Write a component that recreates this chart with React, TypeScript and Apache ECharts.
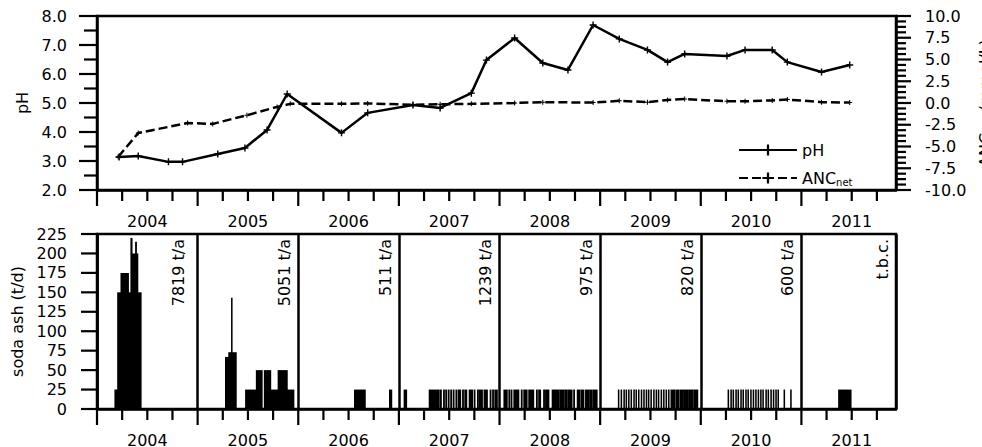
import React, { useEffect, useRef } from 'react';
import * as echarts from 'echarts';

// ---------- data ----------
const X_MIN = 2004;
const X_MAX = 2011.94;

const yearTicks = [2004, 2005, 2006, 2007, 2008, 2009, 2010, 2011];
const phTicks = [2, 3, 4, 5, 6, 7, 8];
const ancTicks = [-10, -7.5, -5, -2.5, 0, 2.5, 5, 7.5, 10];
const sodaTicks = [0, 25, 50, 75, 100, 125, 150, 175, 200, 225];

const phDates = [2004.22, 2004.41, 2004.71, 2004.85, 2005.2, 2005.47, 2005.69, 2005.89, 2006.43, 2006.69, 2007.14, 2007.41, 2007.72, 2007.87, 2008.15, 2008.43, 2008.68, 2008.93, 2009.19, 2009.47, 2009.67, 2009.84, 2010.26, 2010.44, 2010.71, 2010.86, 2011.2, 2011.48];
const phValues = [3.14, 3.17, 2.97, 2.97, 3.24, 3.45, 4.07, 5.31, 3.97, 4.66, 4.93, 4.83, 5.34, 6.48, 7.24, 6.38, 6.14, 7.69, 7.21, 6.83, 6.41, 6.69, 6.62, 6.83, 6.83, 6.41, 6.07, 6.31];

const ancDates = [2004.21, 2004.41, 2004.9, 2005.15, 2005.49, 2005.79, 2005.92, 2006.43, 2006.69, 2007.14, 2007.41, 2007.72, 2008.15, 2008.43, 2008.93, 2009.19, 2009.47, 2009.67, 2009.84, 2010.26, 2010.44, 2010.71, 2010.86, 2011.2, 2011.48];
const ancValues = [-6.2, -3.45, -2.3, -2.4, -1.4, -0.45, -0.1, -0.1, -0.05, -0.2, -0.15, -0.1, 0.0, 0.1, 0.05, 0.25, 0.1, 0.35, 0.45, 0.2, 0.2, 0.3, 0.4, 0.1, 0.05];

// soda ash dosing periods per year: [start day of year, length in days, t/d]
const soda2004 = [[65, 10, 25], [75, 12, 150], [87, 27, 175], [114, 9, 150], [123, 4, 220], [127, 13, 200], [140, 3, 215], [143, 5, 200], [148, 12, 150]];
const soda2005 = [[101, 12, 67], [113, 10, 73], [123, 2, 143], [125, 15, 73], [174, 39, 25], [213, 21, 50], [242, 23, 50], [265, 27, 25], [292, 33, 50], [325, 24, 25]];
const soda2006 = [[204, 39, 25], [331, 8, 25]];
const soda2007 = [[19, 9, 25], [110, 36, 25], [150, 4, 25], [162, 3, 25], [170, 3, 25], [179, 3, 25], [188, 3, 25], [197, 3, 25], [207, 3, 25], [215, 9, 25], [231, 3, 25], [239, 7, 25], [255, 12, 25], [273, 3, 25], [285, 3, 25], [291, 12, 25], [309, 12, 25], [331, 3, 25], [340, 3, 25], [348, 9, 25]];
const soda2008 = [[16, 12, 25], [34, 3, 25], [42, 3, 25], [52, 3, 25], [58, 12, 25], [79, 3, 25], [88, 3, 25], [94, 6, 25], [106, 3, 25], [112, 12, 25], [134, 3, 25], [142, 7, 25], [160, 3, 25], [167, 12, 25], [191, 12, 25], [206, 10, 25], [219, 15, 25], [237, 8, 25], [248, 15, 25], [269, 3, 25], [282, 10, 25], [296, 10, 25], [312, 14, 25], [330, 4, 25], [338, 16, 25]];
const soda2009 = [[66, 2, 25], [76, 2, 25], [86, 2, 25], [94, 2, 25], [103, 2, 25], [112, 2, 25], [122, 2, 25], [130, 2, 25], [139, 2, 25], [149, 2, 25], [158, 2, 25], [167, 2, 25], [175, 2, 25], [184, 2, 25], [194, 2, 25], [203, 2, 25], [211, 2, 25], [221, 2, 25], [230, 2, 25], [239, 2, 25], [248, 2, 25], [257, 6, 25], [266, 6, 25], [276, 10, 25], [290, 12, 25], [305, 15, 25], [323, 14, 25], [340, 14, 25]];
const soda2010 = [[99, 2, 25], [109, 2, 25], [117, 2, 25], [127, 2, 25], [135, 2, 25], [145, 2, 25], [153, 2, 25], [163, 2, 25], [171, 2, 25], [181, 2, 25], [190, 2, 25], [199, 2, 25], [208, 2, 25], [217, 2, 25], [225, 2, 25], [236, 2, 25], [244, 2, 25], [254, 2, 25], [263, 2, 25], [272, 2, 25], [280, 2, 25], [302, 2, 25], [326, 2, 25]];
const soda2011 = [[135, 45, 25]];

const sodaByYear = [soda2004, soda2005, soda2006, soda2007, soda2008, soda2009, soda2010, soda2011];
const annualTotals = ['7819 t/a', '5051 t/a', '511 t/a', '1239 t/a', '975 t/a', '820 t/a', '600 t/a', 't.b.c.'];

// ---------- chart ----------
const FONT = 'DejaVu Sans';
const BLACK = '#000';

const yearFormatter = (v: number) => {
  const f = v - Math.floor(v);
  return Math.abs(f - 0.5) < 0.01 ? String(Math.floor(v)) : '';
};

// subdivide a list of major ticks into minor ticks
const subdivide = (majors: number[], parts: number) => {
  const out: number[] = [];
  for (let i = 0; i < majors.length - 1; i++) {
    const step = (majors[i + 1] - majors[i]) / parts;
    for (let k = 1; k < parts; k++) out.push(majors[i] + k * step);
  }
  return out;
};

const tickRender = (params: any, api: any) => {
  const p = api.coord([api.value(0), api.value(1)]);
  return {
    type: 'line',
    shape: { x1: p[0], y1: p[1], x2: p[0] + api.value(2), y2: p[1] + api.value(3) },
    style: { stroke: BLACK, lineWidth: 2.2 },
  };
};

export default function App() {
  const ref = useRef<HTMLDivElement>(null);
  useEffect(() => {
    document.body.style.margin = '0';
    if (!ref.current) return;
    const chart = echarts.init(ref.current, undefined, { renderer: 'svg' });

    const sodaData: number[][] = [];
    sodaByYear.forEach((segs, i) => {
      const y = yearTicks[i];
      segs.forEach(([d, len, v]) => sodaData.push([y + d / 365, y + (d + len) / 365, v]));
    });
    const annData = yearTicks.map((y) => [Math.min(y + 1, X_MAX) - (y === 2004 ? 0.19 : 0.135), 225]);

    // tick marks: [x, y, dx(px), dy(px)]
    const quarterTicks = subdivide([...yearTicks, 2012], 4).filter((q) => q < X_MAX);
    const topTicks: number[][] = [
      ...phTicks.map((v) => [X_MIN, v, -18, 0]),
      ...subdivide(phTicks, 2).map((v) => [X_MIN, v, -13, 0]),
      ...yearTicks.map((v) => [v, 2, 0, 16]),
      ...quarterTicks.map((v) => [v, 2, 0, 11]),
    ];
    const rightTicks: number[][] = [
      ...ancTicks.map((v) => [X_MAX, v, 15, 0]),
      ...subdivide(ancTicks, 4).map((v) => [X_MAX, v, 10, 0]),
    ];
    const bottomTicks: number[][] = [
      ...sodaTicks.map((v) => [X_MIN, v, -16, 0]),
      ...yearTicks.map((v) => [v, 0, 0, 16]),
      ...quarterTicks.map((v) => [v, 0, 0, 11]),
    ];

    const labelBase = { color: BLACK, fontFamily: FONT, fontSize: 16 };
    const mkLine = () => ({ show: true, onZero: false, lineStyle: { color: BLACK, width: 2.5 } });
    const noTick = { show: false };

    const mkX = (gridIndex: number) => ({
      type: 'value', gridIndex, min: X_MIN, max: X_MAX, interval: 0.25, position: 'bottom',
      axisLine: mkLine(),
      axisTick: noTick,
      axisLabel: { ...labelBase, margin: 23, formatter: yearFormatter },
      splitLine: { show: false },
    });
    const mkXSplit = (gridIndex: number) => ({
      type: 'value', gridIndex, min: X_MIN, max: X_MAX, interval: 1, position: 'bottom',
      axisLine: { show: false, onZero: false },
      axisTick: noTick,
      axisLabel: { show: false },
      splitLine: { show: true, lineStyle: { color: BLACK, width: 2.5 } },
    });

    const subRich = { sub: { fontFamily: FONT, fontSize: 10, color: BLACK, padding: [9, 0, 0, 0] } };

    const option: any = {
      animation: false,
      backgroundColor: '#fff',
      grid: [
        { left: 97, top: 16, width: 799, height: 174, show: true, borderColor: BLACK, borderWidth: 2.5, outerBoundsMode: 'none', containLabel: false },
        { left: 97, top: 234, width: 799, height: 175, show: true, borderColor: BLACK, borderWidth: 2.5, outerBoundsMode: 'none', containLabel: false },
      ],
      legend: {
        orient: 'vertical', left: 733, top: 137, itemWidth: 58, itemHeight: 14, itemGap: 12,
        data: ['pH', 'ANC'],
        formatter: (n: string) => (n === 'ANC' ? 'ANC{sub|net}' : n),
        textStyle: { ...labelBase, rich: subRich },
      },
      xAxis: [mkX(0), mkX(1), mkXSplit(1)],
      yAxis: [
        {
          type: 'value', gridIndex: 0, min: 2, max: 8, interval: 1, position: 'left',
          name: 'pH', nameLocation: 'middle', nameGap: 66, nameRotate: 90,
          nameTextStyle: { ...labelBase },
          axisLine: mkLine(), axisTick: noTick,
          axisLabel: { ...labelBase, margin: 30, formatter: (v: number) => v.toFixed(1) },
          splitLine: { show: false },
        },
        {
          type: 'value', gridIndex: 0, min: -10, max: 10, interval: 2.5, position: 'right',
          name: 'ANC{sub|net} (mmol/L)', nameLocation: 'middle', nameGap: 3, nameRotate: 90,
          nameTextStyle: { ...labelBase, rich: subRich },
          axisLine: mkLine(), axisTick: noTick,
          axisLabel: { ...labelBase, margin: 29, formatter: (v: number) => v.toFixed(1) },
          splitLine: { show: false },
        },
        {
          type: 'value', gridIndex: 1, min: 0, max: 225, interval: 25, position: 'left',
          name: 'soda ash (t/d)', nameLocation: 'middle', nameGap: 71, nameRotate: 90,
          nameTextStyle: { ...labelBase },
          axisLine: mkLine(), axisTick: noTick,
          axisLabel: { ...labelBase, margin: 30 },
          splitLine: { show: false },
        },
      ],
      series: [
        {
          name: 'pH', type: 'line', xAxisIndex: 0, yAxisIndex: 0,
          data: phDates.map((d, i) => [d, phValues[i]]),
          symbol: 'path://M4,0 L6,0 L6,4 L10,4 L10,6 L6,6 L6,10 L4,10 L4,6 L0,6 L0,4 L4,4 Z',
          symbolSize: 7, itemStyle: { color: BLACK }, lineStyle: { color: BLACK, width: 2.5 }, z: 3,
        },
        {
          name: 'ANC', type: 'line', xAxisIndex: 0, yAxisIndex: 1,
          data: ancDates.map((d, i) => [d, ancValues[i]]),
          symbol: 'path://M4,0 L6,0 L6,4 L10,4 L10,6 L6,6 L6,10 L4,10 L4,6 L0,6 L0,4 L4,4 Z',
          symbolSize: 5, itemStyle: { color: BLACK }, lineStyle: { color: BLACK, width: 2.5, type: [9, 4] }, z: 2,
        },
        {
          name: 'soda', type: 'custom', xAxisIndex: 1, yAxisIndex: 2, data: sodaData,
          encode: { x: [0, 1], y: 2 },
          renderItem: (params: any, api: any) => {
            const p0 = api.coord([api.value(0), api.value(2)]);
            const p1 = api.coord([api.value(1), 0]);
            const w = Math.max(p1[0] - p0[0] + 1, 1.4);
            return { type: 'rect', shape: { x: p0[0] - 0.5, y: p0[1], width: w, height: p1[1] - p0[1] }, style: { fill: BLACK } };
          },
        },
        {
          name: 'totals', type: 'custom', xAxisIndex: 1, yAxisIndex: 2, data: annData, clip: false,
          renderItem: (params: any, api: any) => {
            const p = api.coord([api.value(0), api.value(1)]);
            return {
              type: 'text', x: p[0], y: p[1] + 5, rotation: Math.PI / 2,
              style: { text: annualTotals[params.dataIndex], align: 'right', verticalAlign: 'middle', font: `16px "${FONT}"`, fill: BLACK },
            };
          },
        },
        { name: 'ticksTop', type: 'custom', xAxisIndex: 0, yAxisIndex: 0, data: topTicks, clip: false, silent: true, renderItem: tickRender, z: 5 },
        { name: 'ticksRight', type: 'custom', xAxisIndex: 0, yAxisIndex: 1, data: rightTicks, clip: false, silent: true, renderItem: tickRender, z: 5 },
        { name: 'ticksBottom', type: 'custom', xAxisIndex: 1, yAxisIndex: 2, data: bottomTicks, clip: false, silent: true, renderItem: tickRender, z: 5 },
      ],
    };
    chart.setOption(option);
    return () => chart.dispose();
  }, []);
  return <div ref={ref} style={{ width: 982, height: 447 }} />;
}
